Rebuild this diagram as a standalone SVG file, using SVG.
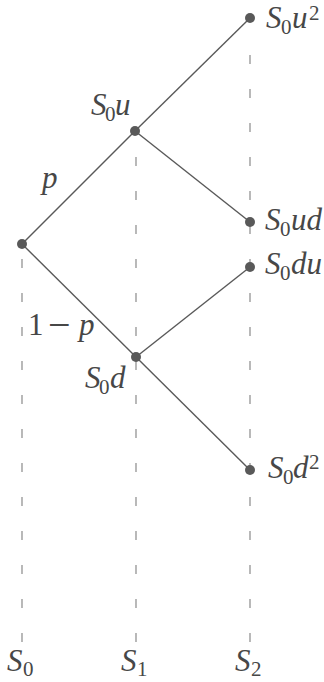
<svg xmlns="http://www.w3.org/2000/svg" width="324" height="682" viewBox="0 0 324 682">
<style>
.edge{stroke:#595959;stroke-width:1.4;fill:none}
.dash{stroke:#8a8a8a;stroke-width:1.2;stroke-dasharray:9 25;fill:none}
.dot{fill:#595959}
.s{font-style:normal;font-size:21px}
</style>
<rect width="324" height="682" fill="#ffffff"/>
<g id="connectors">
<line class="dash" x1="22" y1="259" x2="22" y2="642"/>
<line class="dash" x1="136" y1="157" x2="136" y2="642"/>
<line class="dash" x1="250" y1="55" x2="250" y2="642"/>
<line class="edge" x1="22" y1="244" x2="135" y2="131"/>
<line class="edge" x1="135" y1="131" x2="250" y2="18"/>
<line class="edge" x1="135" y1="131" x2="250" y2="222"/>
<line class="edge" x1="22" y1="244" x2="136" y2="357"/>
<line class="edge" x1="136" y1="357" x2="250" y2="267"/>
<line class="edge" x1="136" y1="357" x2="250" y2="470"/>
</g>
<g font-family="Liberation Serif, Times New Roman, serif" font-style="italic" font-size="31" fill="#474747">
<g id="lp"><text x="42" y="188">p</text></g>
<g id="lq"><text y="335"><tspan x="28" font-style="normal">1</tspan><tspan x="48" y="338" font-style="normal" font-size="40">−</tspan><tspan x="79" y="335">p</tspan></text></g>
<g id="n0"><circle class="dot" cx="22" cy="244" r="5"/></g>
<g id="n1"><circle class="dot" cx="135" cy="131" r="5"/><text y="115"><tspan x="91">S</tspan><tspan class="s" x="105" y="121">0</tspan><tspan x="115" y="115">u</tspan></text></g>
<g id="n2"><circle class="dot" cx="250" cy="18" r="5"/><text y="28"><tspan x="266">S</tspan><tspan class="s" x="281" y="34">0</tspan><tspan x="292" y="28">u</tspan><tspan class="s" x="309" y="20">2</tspan></text></g>
<g id="n3"><circle class="dot" cx="250" cy="222" r="5"/><text y="230"><tspan x="265">S</tspan><tspan class="s" x="280" y="236">0</tspan><tspan x="291" y="230">ud</tspan></text></g>
<g id="n4"><circle class="dot" cx="136" cy="357" r="5"/><text y="388"><tspan x="85">S</tspan><tspan class="s" x="99" y="394">0</tspan><tspan x="110" y="388">d</tspan></text></g>
<g id="n5"><circle class="dot" cx="250" cy="267" r="5"/><text y="274"><tspan x="265">S</tspan><tspan class="s" x="280" y="280">0</tspan><tspan x="291" y="274">du</tspan></text></g>
<g id="n6"><circle class="dot" cx="250" cy="470" r="5"/><text y="478"><tspan x="268">S</tspan><tspan class="s" x="283" y="484">0</tspan><tspan x="293" y="478">d</tspan><tspan class="s" x="309" y="469">2</tspan></text></g>
<g id="axis">
<text y="671"><tspan x="7">S</tspan><tspan class="s" x="23" y="676">0</tspan></text>
<text y="671"><tspan x="121">S</tspan><tspan class="s" x="137" y="676">1</tspan></text>
<text y="671"><tspan x="235">S</tspan><tspan class="s" x="251" y="676">2</tspan></text>
</g>
</g>
</svg>
